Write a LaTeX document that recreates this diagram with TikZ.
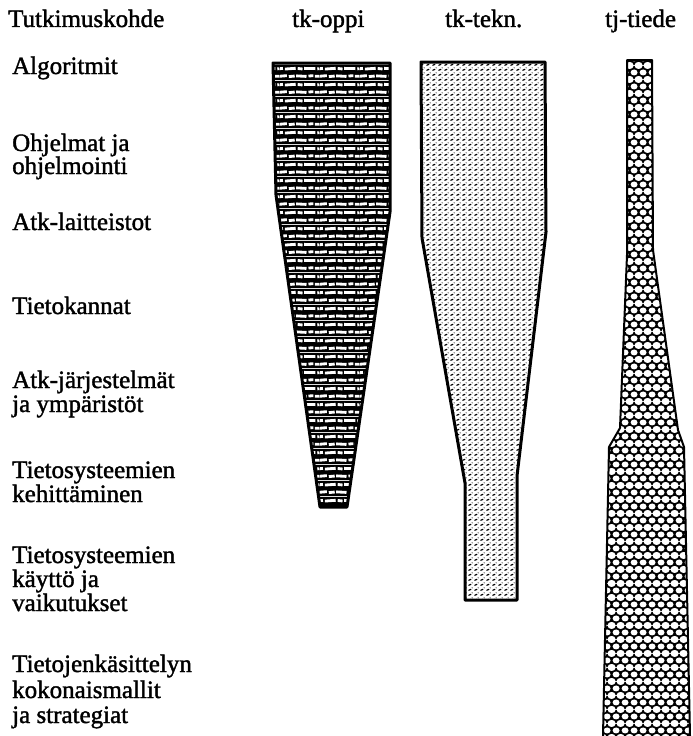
\documentclass[tikz,border=0pt]{standalone}
\usepackage{fontspec}
\setmainfont{Liberation Serif}[FakeBold=1.5]
\usetikzlibrary{patterns.meta}

\tikzdeclarepattern{
  name=scrib, type=colored,
  bounding box={(0pt,0pt) and (40pt,16pt)},
  tile size={(40pt,16pt)},
  code={
    \fill[black] (0pt,0pt) rectangle (40pt,16pt);
    \draw[white, line width=3pt]
      (0pt,4pt) -- (7pt,4.6pt) (9pt,3.6pt) -- (15pt,4.2pt) (16.5pt,4.4pt) -- (27pt,3.8pt) (29pt,4.2pt) -- (34pt,4.6pt) (35.5pt,3.9pt) -- (40pt,4pt);
    \draw[white, line width=3pt]
      (0pt,12pt) -- (3pt,12.3pt) (5pt,11.6pt) -- (16pt,12.4pt) (18pt,12.2pt) -- (23pt,11.7pt) (24.5pt,12.3pt) -- (36pt,12.1pt) (38pt,11.8pt) -- (40pt,12pt);
  }
}
\tikzdeclarepattern{
  name=squig, type=colored,
  bounding box={(0pt,0pt) and (6pt,5pt)},
  tile size={(6pt,5pt)},
  code={
    \fill[white] (0pt,0pt) rectangle (6pt,5pt);
    \draw[black, line width=1.4pt, line cap=round] (0.9pt,0.9pt) .. controls (1.6pt,2.2pt) and (2.4pt,0.5pt) .. (3.4pt,2pt);
    \fill[black] (4.8pt,3.8pt) circle (0.65pt);
  }
}
\tikzdeclarepattern{
  name=hexo, type=colored,
  bounding box={(0pt,0pt) and (9pt,14pt)},
  tile size={(9pt,14pt)},
  code={
    \fill[black] (0pt,0pt) rectangle (9pt,14pt);
    \fill[white] (0pt,0pt) ellipse [x radius=3.8pt, y radius=3.2pt];
    \fill[white] (9pt,0pt) ellipse [x radius=3.8pt, y radius=3.2pt];
    \fill[white] (0pt,14pt) ellipse [x radius=3.8pt, y radius=3.2pt];
    \fill[white] (9pt,14pt) ellipse [x radius=3.8pt, y radius=3.2pt];
    \fill[white] (4.5pt,7pt) ellipse [x radius=3.8pt, y radius=3.2pt];
  }
}

\tikzset{
  lab/.style={anchor=base west, inner sep=0pt, font=\fontsize{25}{24}\selectfont},
  shapeline/.style={line width=3pt, line join=round},
}

\begin{document}
\begin{tikzpicture}[x=1pt,y=-1pt]
\useasboundingbox (0,0) rectangle (693,736);
\fill[white] (0,0) rectangle (693,736);

% tk-oppi
\fill[pattern=scrib] (273,63) -- (390,63) -- (390,212) -- (347,507) -- (320,507) -- (276,195) -- cycle;
\draw[shapeline] (273,63) -- (390,63) -- (390,212) -- (347,507) -- (320,507) -- (276,195) -- cycle;

% tk-tekn
\fill[pattern=squig] (421,62) -- (545,62) -- (546,232) -- (517,476) -- (517,600) -- (465,600) -- (465,483) -- (422,238) -- cycle;
\draw[shapeline] (421,62) -- (545,62) -- (546,232) -- (517,476) -- (517,600) -- (465,600) -- (465,483) -- (422,238) -- cycle;

% tj-tiede
\fill[pattern=hexo] (603,736) -- (609,447) -- (620,428) -- (627,255) -- (627,60) -- (652,60) -- (653,250) -- (678,430) -- (684,447) -- (690,736) -- cycle;
\draw[line width=2pt, line join=round] (603,736) -- (609,447) -- (620,428) -- (627,255) -- (627,60) -- (652,60) -- (653,250) -- (678,430) -- (684,447) -- (690,736);

% headers
\node[lab] (h0) at (8,27) {Tutkimuskohde};
\node[lab] (h1) at (292,27) {tk-oppi};
\node[lab] (h2) at (445,27) {tk-tekn.};
\node[lab] (h3) at (605,27) {tj-tiede};

% row labels
\node[lab] (r1) at (12,74) {Algoritmit};
\node[lab] (r2a) at (12,151) {Ohjelmat ja};
\node[lab] (r2b) at (12,174) {ohjelmointi};
\node[lab] (r3) at (12,230) {Atk-laitteistot};
\node[lab] (r4) at (12,314) {Tietokannat};
\node[lab] (r5a) at (12,388) {Atk-järjestelmät};
\node[lab] (r5b) at (12,412) {ja ympäristöt};
\node[lab] (r6a) at (12,478) {Tietosysteemien};
\node[lab] (r6b) at (12,502) {kehittäminen};
\node[lab] (r7a) at (12,563) {Tietosysteemien};
\node[lab] (r7b) at (12,587) {käyttö ja};
\node[lab] (r7c) at (12,611) {vaikutukset};
\node[lab] (r8a) at (12,672) {Tietojenkäsittelyn};
\node[lab] (r8b) at (12,698) {kokonaismallit};
\node[lab] (r8c) at (12,723) {ja strategiat};
\end{tikzpicture}
\end{document}
